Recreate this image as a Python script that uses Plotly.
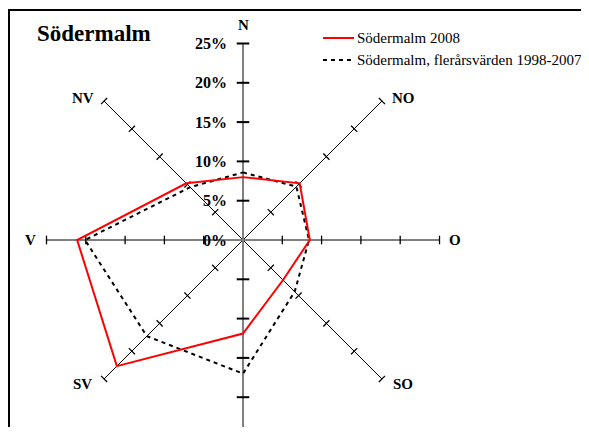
import numpy as np
import plotly.graph_objects as go

# wind directions (Swedish), going clockwise from north
directions = ["N", "NO", "O", "SO", "S", "SV", "V", "NV"]
angles_deg = [90, 45, 0, -45, -90, -135, 180, 135]

# share of wind per direction, %
sodermalm_2008 = [8.0, 10.2, 8.5, 7.2, 11.9, 22.7, 21.1, 10.2]
sodermalm_1998_2007 = [8.6, 9.6, 8.4, 9.3, 17.0, 17.3, 20.1, 9.5]

series_names = ["Södermalm 2008", "Södermalm, flerårsvärden 1998-2007"]
tick_values = [5, 10, 15, 20, 25]
tick_labels = ["0%", "5%", "10%", "15%", "20%", "25%"]
axis_max = 25

FONT = "Liberation Serif"
PAGE_PAD = 8  # default body margin of the html page
W, H = 589 - 2 * PAGE_PAD, 435 - 2 * PAGE_PAD
CX, CY, SCALE = 243 - PAGE_PAD, 240 - PAGE_PAD, 7.86  # centre pixel and px per percent
DASH = "4px,4px"


def px_x(x):
    return (x - PAGE_PAD) / W


def px_y(y):
    return 1 - (y - PAGE_PAD) / H


def polar_to_xy(values):
    a = np.radians(angles_deg)
    v = np.array(values)
    x = np.append(v * np.cos(a), v[0] * np.cos(a[0]))
    y = np.append(v * np.sin(a), v[0] * np.sin(a[0]))
    return x, y


fig = go.Figure()

# diagonal spokes + horizontal axis (thin black)
spoke_x, spoke_y = [], []
for ang in [0, 45, 135]:
    a = np.radians(ang)
    spoke_x += [-axis_max * np.cos(a), axis_max * np.cos(a), None]
    spoke_y += [-axis_max * np.sin(a), axis_max * np.sin(a), None]
fig.add_trace(go.Scatter(x=spoke_x, y=spoke_y, mode="lines", line=dict(color="black", width=1),
                         hoverinfo="skip"))

# vertical value axis (grey)
fig.add_trace(go.Scatter(x=[0, 0], y=[-axis_max - 2, axis_max], mode="lines", line=dict(color="#808080", width=2),
                         hoverinfo="skip"))

# tick marks on the spokes
tx, ty = [], []
for ang in angles_deg:
    if ang in (90, -90):
        continue
    a = np.radians(ang)
    half = 0.55
    for v in tick_values:
        px, py = v * np.cos(a), v * np.sin(a)
        nx, ny = -np.sin(a) * half, np.cos(a) * half
        tx += [px - nx, px + nx, None]
        ty += [py - ny, py + ny, None]
fig.add_trace(go.Scatter(x=tx, y=ty, mode="lines", line=dict(color="black", width=1.3), hoverinfo="skip"))

vx, vy = [], []
for v in tick_values:
    for s in (1, -1):
        vx += [-0.8, 0.8, None]
        vy += [s * v, s * v, None]
fig.add_trace(go.Scatter(x=vx, y=vy, mode="lines", line=dict(color="black", width=2), hoverinfo="skip"))

# data
x1, y1 = polar_to_xy(sodermalm_1998_2007)
fig.add_trace(go.Scatter(x=x1, y=y1, mode="lines", line=dict(color="black", width=2, dash=DASH)))
x0, y0 = polar_to_xy(sodermalm_2008)
fig.add_trace(go.Scatter(x=x0, y=y0, mode="lines", line=dict(color="red", width=2)))

# tick labels
for i, lab in enumerate(tick_labels):
    fig.add_annotation(x=-1.75, y=i * 5, text=f"<b>{lab}</b>", showarrow=False, xanchor="right",
                       yanchor="middle", font=dict(family=FONT, size=16, color="black"))

# direction labels
label_offset = {"N": (0, 2.3), "NO": (2.7, 0.4), "O": (2.0, 0), "SO": (2.7, -0.6),
                "S": (0, -2.3), "SV": (-2.7, -0.6), "V": (-2.0, 0), "NV": (-2.7, 0.4)}
for d, ang in zip(directions, angles_deg):
    if d == "S":
        continue
    a = np.radians(ang)
    ox, oy = label_offset[d]
    fig.add_annotation(x=axis_max * np.cos(a) + ox, y=axis_max * np.sin(a) + oy, text=f"<b>{d}</b>",
                       showarrow=False, xanchor="center", yanchor="middle",
                       font=dict(family=FONT, size=15, color="black"))

fig.add_annotation(x=px_x(35), y=px_y(33), xref="paper", yref="paper", text="<b>Södermalm</b>",
                   showarrow=False, xanchor="left", yanchor="middle",
                   font=dict(family=FONT, size=23, color="black"))

# legend drawn by hand
legend_styles = [dict(color="red", width=2), dict(color="black", width=2, dash=DASH)]
for i, (name, style) in enumerate(zip(series_names, legend_styles)):
    ly = 38 + 22 * i
    fig.add_shape(type="line", xref="paper", yref="paper", x0=px_x(323), x1=px_x(354),
                  y0=px_y(ly), y1=px_y(ly), line=style)
    fig.add_annotation(x=px_x(355), y=px_y(ly), xref="paper", yref="paper", text=name, showarrow=False,
                       xanchor="left", yanchor="middle", font=dict(family=FONT, size=15, color="black"))

# frame (top and left edges)
fig.add_shape(type="line", xref="paper", yref="paper", x0=px_x(8), x1=1.02, y0=px_y(10), y1=px_y(10),
              line=dict(color="black", width=2))
fig.add_shape(type="line", xref="paper", yref="paper", x0=px_x(9), x1=px_x(9), y0=-0.05, y1=px_y(10),
              line=dict(color="black", width=2))

fig.update_layout(
    width=W, height=H, margin=dict(l=0, r=0, t=0, b=0),
    paper_bgcolor="white", plot_bgcolor="white",
    xaxis=dict(range=[-CX / SCALE, (W - CX) / SCALE], visible=False),
    yaxis=dict(range=[(CY - H) / SCALE, CY / SCALE], visible=False),
    showlegend=False,
)

fig.write_html("out.html")
